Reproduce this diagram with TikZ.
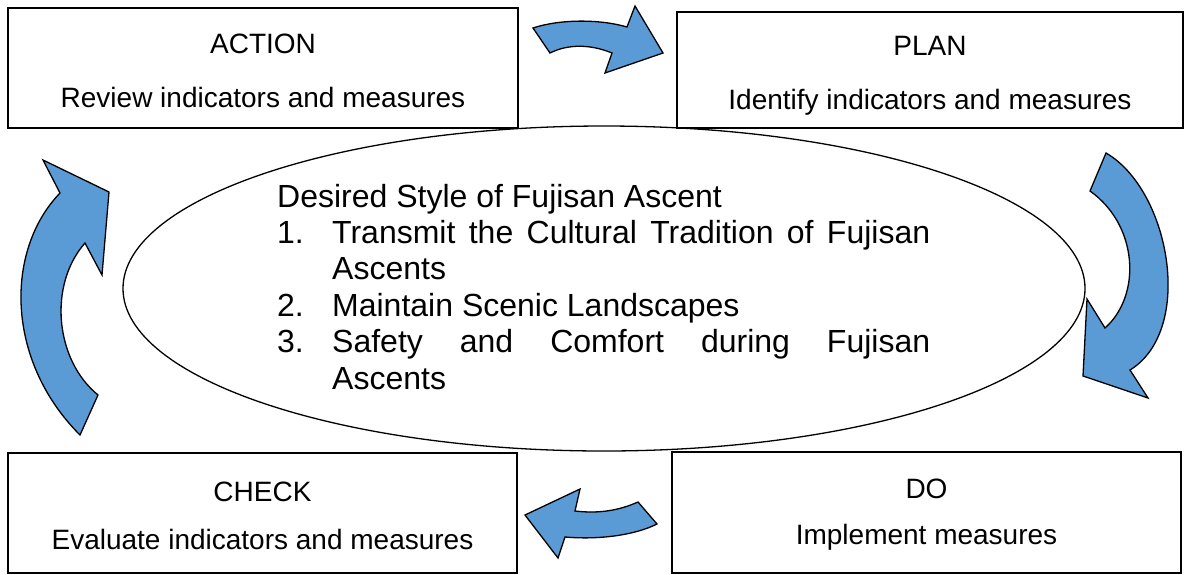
\documentclass[tikz,border=0pt]{standalone}
\usepackage{fontspec}
\setmainfont{Liberation Sans}
\usetikzlibrary{shapes.geometric}
\definecolor{arrowblue}{RGB}{91,155,213}
\tikzset{
  box/.style={draw=black, line width=1.3pt, rectangle, inner sep=0pt},
  boxtext/.style={anchor=base, inner sep=0pt, font=\fontsize{28}{32}\selectfont},
  goalshape/.style={draw=black, line width=1.3pt, ellipse, inner sep=0pt},
  cyc/.style={draw=black, line width=1.3pt, fill=arrowblue, line join=miter},
}
\begin{document}
\begin{tikzpicture}[x=1pt,y=-1pt]
\useasboundingbox (0,0) rectangle (1191,574);
% boxes
\node[box, minimum width=510pt, minimum height=120pt] (action) at (263,68) {};
\node[box, minimum width=506pt, minimum height=116pt] (plan) at (930,70) {};
\node[box, minimum width=509pt, minimum height=120pt] (check) at (262.5,513) {};
\node[box, minimum width=509pt, minimum height=121pt] (do) at (926.5,512.5) {};
% box texts
\node[boxtext] (actiont) at (263,53.5) {ACTION};
\node[boxtext] (actionb) at (263,107) {Review indicators and measures};
\node[boxtext] (plant) at (930,55.5) {PLAN};
\node[boxtext] (planb) at (930,109) {Identify indicators and measures};
\node[boxtext] (checkt) at (262.5,501) {CHECK};
\node[boxtext] (checkb) at (262.5,549) {Evaluate indicators and measures};
\node[boxtext] (dot) at (926.5,498) {DO};
\node[boxtext] (dob) at (926.5,544) {Implement measures};
% ellipse
\node[goalshape, minimum width=962pt, minimum height=325pt] (goal) at (604,288.5) {};
\node[anchor=base west, inner sep=0pt] (goaltext) at (277,207) {\parbox[t]{653pt}{%
\fontsize{32}{36.4}\selectfont\tolerance=10000\hyphenpenalty=10000\exhyphenpenalty=10000\parindent=0pt
Desired Style of Fujisan Ascent\par
\hangindent=55pt\hangafter=1\makebox[55pt][l]{1.}Transmit the Cultural Tradition of Fujisan\linebreak Ascents\par
\hangindent=55pt\hangafter=1\makebox[55pt][l]{2.}Maintain Scenic Landscapes\par
\hangindent=55pt\hangafter=1\makebox[55pt][l]{3.}Safety and Comfort during Fujisan\linebreak Ascents\par}};
% cycle arrows
\draw[cyc] (533,28) .. controls (560,19) and (600,19) .. (627,27) -- (635,6) -- (663,53) -- (605,73) -- (612,53) .. controls (590,44) and (568,44) .. (550,53) -- cycle;
\draw[cyc] (1106,153) .. controls (1170,190) and (1195,330) .. (1130,370) -- (1148,398) -- (1083,376) -- (1087,299) -- (1105,328) .. controls (1142,295) and (1138,225) .. (1090,191) -- cycle;
\draw[cyc] (638,502) -- (657,524) .. controls (635,535) and (600,540) .. (565,537) -- (558,558) -- (525,515) -- (580,489) -- (575,511) .. controls (600,514) and (620,510) .. cycle;
\draw[cyc] (80,435) -- (98,395) .. controls (55,360) and (48,285) .. (85,243) -- (102,275) -- (109,192) -- (43,160) -- (60,193) .. controls (5,250) and (5,360) .. cycle;
\end{tikzpicture}
\end{document}
